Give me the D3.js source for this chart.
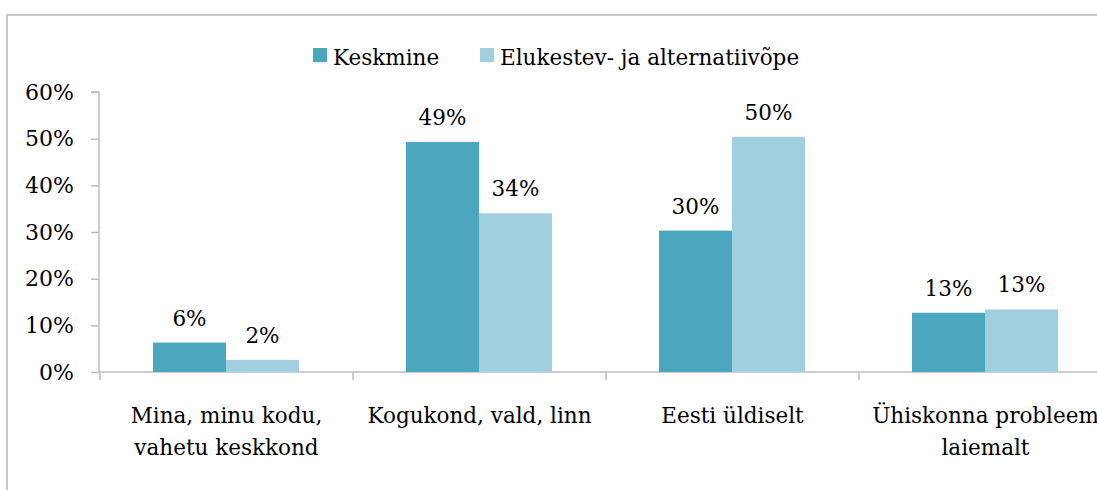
<!DOCTYPE html>
<html><head><meta charset="utf-8">
<script src="https://cdn.jsdelivr.net/npm/d3@7"></script>
<style>
body{margin:0;background:#fff;}
text{font-family:"DejaVu Serif",serif;fill:#000;}
</style></head>
<body>
<svg id="c" width="1097" height="490"></svg>
<script>
const categories = [["Mina, minu kodu,","vahetu keskkond"],["Kogukond, vald, linn"],["Eesti üldiselt"],["Ühiskonna probleem","laiemalt"]];
const seriesNames = ["Keskmine","Elukestev- ja alternatiivõpe"];
const keskmine = [0.063, 0.493, 0.303, 0.127];
const elukestev = [0.026, 0.340, 0.504, 0.134];
const labelsK = ["6%","49%","30%","13%"];
const labelsE = ["2%","34%","50%","13%"];
const yTicks = [0,0.1,0.2,0.3,0.4,0.5,0.6];
const colors = ["#4BA7BE","#A2CFDF"];

const svg = d3.select("#c");
const fs = 21.5;
// chart border
svg.append("path").attr("d","M7,490 L7,15 L1097,15").attr("fill","none").attr("stroke","#c8c8c8").attr("stroke-width",2);

const x0 = d3.scaleBand().domain(d3.range(4)).range([100,1112]);
const x1 = d3.scaleBand().domain([0,1]).range([0,146]);
const y = d3.scaleLinear().domain([0,0.6]).range([372,92]);

// y axis
const ya = svg.append("g").attr("transform","translate(99,0)")
  .call(d3.axisLeft(y).tickValues(yTicks).tickFormat(d3.format(".0%")).tickSize(8).tickPadding(17));
ya.select(".domain").attr("stroke","#bdbdbd").attr("stroke-width",1.5).attr("d","M-8,92H0V372");
ya.selectAll(".tick line").attr("stroke","#bdbdbd").attr("stroke-width",1.5);
ya.selectAll("text").style("font-size","22px").style("font-family","DejaVu Serif").attr("fill","#000");

// x axis line & ticks
const xa = svg.append("g");
xa.append("line").attr("x1",99).attr("x2",1112).attr("y1",372).attr("y2",372).attr("stroke","#bdbdbd").attr("stroke-width",1.5);
xa.selectAll(".xt").data(d3.range(5)).join("line")
  .attr("x1",d=>d<4?x0(d):x0(3)+x0.bandwidth()).attr("x2",d=>d<4?x0(d):x0(3)+x0.bandwidth())
  .attr("y1",372).attr("y2",380).attr("stroke","#bdbdbd").attr("stroke-width",1.5);

const vals = [keskmine, elukestev];
const labs = [labelsK, labelsE];
[0,1].forEach(s=>{
  const g = svg.append("g");
  g.selectAll("rect").data(vals[s]).join("rect")
    .attr("x",(d,i)=>x0(i)+53+x1(s)).attr("width",x1.bandwidth())
    .attr("y",d=>y(d)).attr("height",d=>372-y(d)).attr("fill",colors[s]);
  g.selectAll("text").data(vals[s]).join("text")
    .attr("x",(d,i)=>x0(i)+53+x1(s)+x1.bandwidth()/2).attr("y",d=>y(d)-17)
    .attr("text-anchor","middle").style("font-size",fs+"px").text((d,i)=>labs[s][i]);
});

// category labels
const cl = svg.append("g");
categories.forEach((lines,i)=>{
  const t = cl.append("text").attr("text-anchor","middle").style("font-size",fs+"px");
  lines.forEach((ln,j)=>t.append("tspan").attr("x",x0(i)+x0.bandwidth()/2).attr("y",423+j*32).text(ln));
});

// legend
const lg = svg.append("g");
const lx = [313,480];
seriesNames.forEach((n,i)=>{
  lg.append("rect").attr("x",lx[i]).attr("y",48).attr("width",14).attr("height",14).attr("fill",colors[i]);
  lg.append("text").attr("x",lx[i]+20).attr("y",65).style("font-size",fs+"px").text(n);
});
</script>
</body></html>
